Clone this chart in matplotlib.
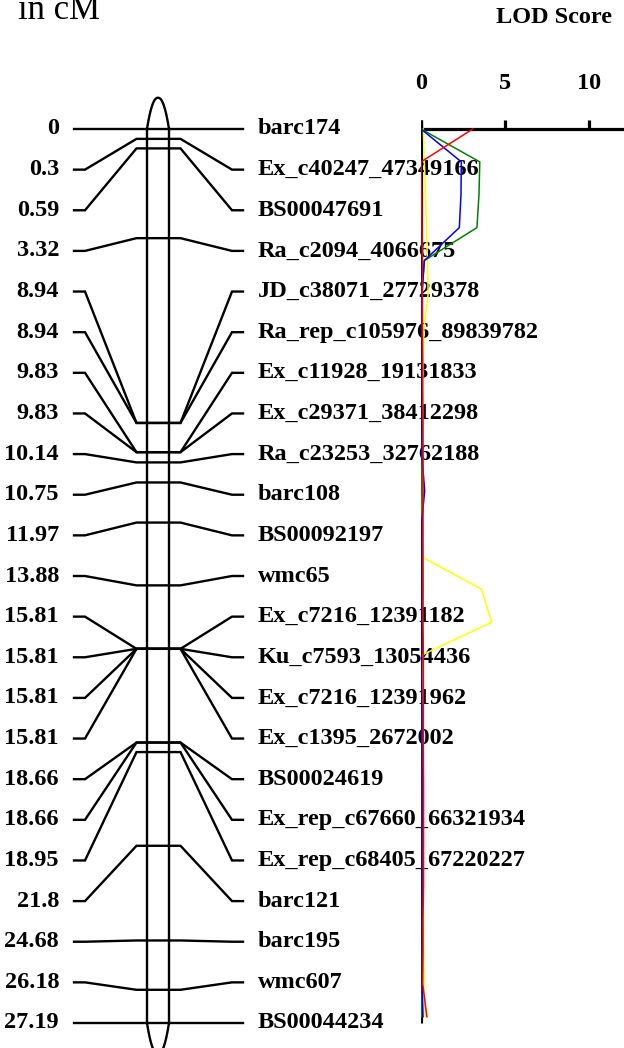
import numpy as np
import matplotlib
matplotlib.use("Agg")
import matplotlib.pyplot as plt

# markers on the chromosome (cM)
markers = ["barc174", "Ex_c40247_47349166", "BS00047691", "Ra_c2094_4066675",
           "JD_c38071_27729378", "Ra_rep_c105976_89839782", "Ex_c11928_19131833",
           "Ex_c29371_38412298", "Ra_c23253_32762188", "barc108", "BS00092197",
           "wmc65", "Ex_c7216_12391182", "Ku_c7593_13054436", "Ex_c7216_12391962",
           "Ex_c1395_2672002", "BS00024619", "Ex_rep_c67660_66321934",
           "Ex_rep_c68405_67220227", "barc121", "barc195", "wmc607", "BS00044234"]
pos_cm = [0, 0.3, 0.59, 3.32, 8.94, 8.94, 9.83, 9.83, 10.14, 10.75, 11.97, 13.88,
          15.81, 15.81, 15.81, 15.81, 18.66, 18.66, 18.95, 21.8, 24.68, 26.18, 27.19]
pos_text = ["0", "0.3", "0.59", "3.32", "8.94", "8.94", "9.83", "9.83", "10.14",
            "10.75", "11.97", "13.88", "15.81", "15.81", "15.81", "15.81", "18.66",
            "18.66", "18.95", "21.8", "24.68", "26.18", "27.19"]

# LOD profiles, one value per cM
lod_cm = list(range(28))
lod_red = [3.08, 0.0, 0.04, 0.06, 0.08, 0.08, 0.08, 0.1, 0.1, 0.12, 0.12, 0.12, 0.12, 0.12,
           0.12, 0.12, 0.14, 0.14, 0.14, 0.14, 0.15, 0.15, 0.15, 0.15, 0.12, 0.12, 0.1, 0.35]
lod_blue = [0.0, 2.4, 2.38, 2.28, 0.2, 0.05, 0.03, 0.03, 0.03, 0.04, 0.06, 0.22, 0.03, 0.02,
            0.02, 0.02, 0.03, 0.04, 0.06, 0.06, 0.06, 0.06, 0.05, 0.05, 0.05, 0.06, 0.06, 0.12]
lod_green = [0.0, 3.5, 3.45, 3.33, 0.2, 0.06, 0.06, 0.05, 0.05, 0.05, 0.05, 0.05, 0.06, 0.08,
             0.1, 0.06, 0.04, 0.04, 0.04, 0.04, 0.04, 0.04, 0.03, 0.03, 0.03, 0.03, 0.03, 0.02]
lod_yellow = [0.14, 0.2, 0.27, 0.33, 0.38, 0.43, 0.18, 0.12, 0.1, 0.1, 0.08, 0.06, 0.03, 0.0,
              3.61, 4.2, 0.05, 0.1, 0.12, 0.12, 0.14, 0.14, 0.14, 0.15, 0.15, 0.16, 0.18, 0.24]
lod_ticks = [0, 5, 10]

W, H = 624, 1048
map_len = pos_cm[-1]
px_per_cm = 894 / map_len
y_top = -129 / px_per_cm
y_bot = (H - 129) / px_per_cm

font = dict(family="Liberation Serif", fontweight="bold", fontsize=17.5)

fig = plt.figure(figsize=(W / 100, H / 100), dpi=100)
ax = fig.add_axes([0, 0, 1, 1])
ax.set_xlim(0, W)
ax.set_ylim(y_bot, y_top)
ax.axis("off")

lw = 1.7
# chromosome body
chr_l, chr_r = 147, 169
ax.plot([chr_l, chr_l], [0, map_len], color="black", lw=lw)
ax.plot([chr_r, chr_r], [0, map_len], color="black", lw=lw)
# pointed telomere ends
cap_h = 0.95
s = np.linspace(-1, 1, 81)
cx = (chr_l + chr_r) / 2 + (chr_r - chr_l) / 2 * s
depth = cap_h * (1 - np.abs(s) ** 2.2)
ax.plot(cx, -depth, color="black", lw=lw)
ax.plot(cx, map_len + depth, color="black", lw=lw, clip_on=False)

# marker lines fanning out to evenly spaced labels
n = len(markers)
lab_y = np.linspace(0, map_len, n)
for name, c, txt, ly in zip(markers, pos_cm, pos_text, lab_y):
    xs = [74, 85, 136.5, 180.5, 232, 243]
    ys = [ly, ly, c, c, ly, ly]
    ax.plot(xs, ys, color="black", lw=lw, solid_joinstyle="miter")
    ax.text(59, ly, txt, ha="right", va="center", **font)
    ax.text(258, ly, name, ha="left", va="center", **font)

ax.text(18, 19 / px_per_cm + y_top, "in cM", ha="left", va="baseline",
        family="Liberation Serif", fontsize=25)
ax.text(554, 18 / px_per_cm + y_top, "LOD Score", ha="center", va="center", **font)

# LOD panel
x0 = 421
ax2 = fig.add_axes([x0 / W, 0, (W - x0) / W, 1])
ax2.set_xlim(0, (W - x0) / 16.8)
ax2.set_ylim(y_bot, y_top)
ax2.axis("off")
tick_len = 9 / px_per_cm
ax2.plot([0, 20], [0, 0], color="black", lw=2.3, solid_capstyle="butt")
ax2.plot([0, 0], [-tick_len, map_len], color="black", lw=2.3, solid_capstyle="butt")
for tk in lod_ticks:
    ax2.plot([tk, tk], [0, -tick_len], color="black", lw=2.3, solid_capstyle="butt")
    ax2.text(tk, -45 / px_per_cm, str(tk), ha="center", va="center", **font)

for vals, col in [(lod_yellow, "#ffff00"), (lod_green, "#008000"),
                  (lod_blue, "#0000ff"), (lod_red, "#ff0000")]:
    ax2.plot(vals, lod_cm, color=col, lw=1.1)

fig.savefig("out.png", dpi=100)
